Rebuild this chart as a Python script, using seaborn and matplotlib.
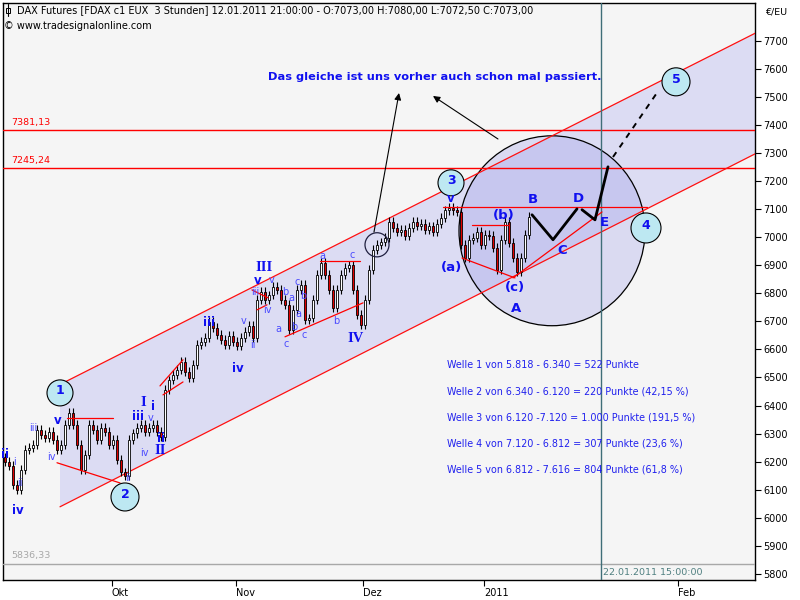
import numpy as np
import pandas as pd
import matplotlib
matplotlib.use("Agg")
import matplotlib.pyplot as plt
import seaborn as sns
from matplotlib.patches import Ellipse, Polygon

# ---------------- data ----------------
closes = [6199, 6185, 6117, 6099, 6171, 6242, 6249, 6260, 6313, 6295,
          6285, 6306, 6278, 6242, 6260, 6331, 6374, 6331, 6260, 6171,
          6224, 6331, 6313, 6278, 6320, 6306, 6260, 6278, 6206, 6163,
          6149, 6278, 6302, 6320, 6331, 6306, 6320, 6331, 6306, 6288,
          6456, 6491, 6509, 6527, 6556, 6520, 6499, 6545, 6616, 6627,
          6641, 6698, 6677, 6652, 6634, 6616, 6648, 6627, 6613, 6641,
          6663, 6684, 6641, 6777, 6805, 6777, 6794, 6823, 6812, 6777,
          6759, 6670, 6741, 6812, 6830, 6705, 6712, 6777, 6866, 6909,
          6866, 6812, 6748, 6812, 6866, 6891, 6901, 6812, 6723, 6688,
          6777, 6884, 6955, 6973, 6983, 6998, 7055, 7033, 7019, 7026,
          7005, 7033, 7055, 7040, 7048, 7026, 7040, 7019, 7048, 7069,
          7097, 7105, 7097, 7090, 6973, 6926, 6991, 6998, 7019, 6973,
          7008, 7005, 6962, 6884, 6991, 7055, 6980, 6926, 6876, 6926,
          7008, 7073]
first_open = 6215

month_ticks = [26.75, 57.75, 89.5, 119.75, 168.25]
month_labels = ["Okt", "Nov", "Dez", "2011", "Feb"]
price_ticks = list(range(5800, 7701, 100))

level_values = [7381.13, 7245.24]
level_labels = ["7381,13", "7245,24"]
low_level = 5836.33
low_label = "5836,33"
cursor_x = 149.0
cursor_label = "22.01.2011 15:00:00"

channel_x = [13.75, 187.5]
channel_upper = [6475, 7727]
channel_lower = [6039, 7297]

# small red helper lines: (x0, x1, y0, y1)
red_segments = [
    (15.5, 27.0, 6356, 6356),
    (13.0, 28.75, 6196, 6124),
    (38.75, 44.5, 6470, 6563),
    (39.5, 44.5, 6438, 6484),
    (61.75, 65.75, 6812, 6784),
    (63.0, 65.5, 6741, 6759),
    (78.75, 88.75, 6916, 6916),
    (70.0, 89.5, 6645, 6766),
    (109.5, 160.5, 7108, 7108),
    (116.75, 125.75, 7044, 7044),
    (114.25, 127.5, 6926, 6855),
    (127.0, 149.25, 6855, 7090),
]

proj1_x = [131.75, 137.0, 143.0]
proj1_y = [7080, 6991, 7101]
proj2_x = [144.25, 147.5, 150.75]
proj2_y = [7098, 7062, 7251]
proj3_x = [152.0, 163.0]
proj3_y = [7286, 7515]

wave_circle_labels = ["1", "2", "3", "4", "5"]
wave_circle_x = [13.75, 30.0, 111.5, 160.25, 167.75]
wave_circle_y = [6445, 6074, 7194, 7033, 7554]
wave_circle_r = [13, 14, 13, 15, 14]

big_circle = (136.75, 7023, 46.5, 677)
small_ring = (93.0, 6973, 6.0, 86)

welle_lines = [
    "Welle 1 von 5.818 - 6.340 = 522 Punkte",
    "Welle 2 von 6.340 - 6.120 = 220 Punkte (42,15 %)",
    "Welle 3 von 6.120 -7.120 = 1.000 Punkte (191,5 %)",
    "Welle 4 von 7.120 - 6.812 = 307 Punkte (23,6 %)",
    "Welle 5 von 6.812 - 7.616 = 804 Punkte (61,8 %)",
]

# ---------------- style ----------------
sns.set_style("white")
plt.rcParams["font.family"] = ["DejaVu Sans"]

fig = plt.figure(figsize=(8, 6), dpi=100)
fig.patch.set_facecolor("white")
ax = fig.add_axes([3 / 800, 20 / 600, 752 / 800, 577 / 600])
ax.set_facecolor("#f5f5f5")
ax.set_xlim(-0.5, 187.5)
ax.set_ylim(5778, 7835)

BLUE = "#1010f0"
LBLUE = "#4a4aff"


def P(x, y):
    return (x / 800, 1 - y / 600)


# channel fill
poly = Polygon([(channel_x[0], channel_lower[0]), (channel_x[1], channel_lower[1]),
                (channel_x[1], channel_upper[1]), (channel_x[0], channel_upper[0])],
               closed=True, facecolor="#dcdcf3", edgecolor="none", zorder=1)
ax.add_patch(poly)

# big circle
ax.add_patch(Ellipse((big_circle[0], big_circle[1]), big_circle[2], big_circle[3],
                     facecolor=(0.55, 0.55, 0.9, 0.25), edgecolor="black",
                     linewidth=0.9, zorder=2))

# levels
for v in level_values:
    ax.axhline(v, color="#ff0000", lw=1.0, zorder=3)
ax.axhline(low_level, color="#a8a8a8", lw=1.0, zorder=3)
ax.axvline(cursor_x, color="#3f6e78", lw=1.0, zorder=6)

# channel lines
df_ch = pd.DataFrame({"x": channel_x * 2, "y": channel_upper + channel_lower,
                      "line": ["u", "u", "l", "l"]})
sns.lineplot(data=df_ch, x="x", y="y", units="line", estimator=None,
             color="#ff1010", lw=0.9, ax=ax, zorder=3, legend=False)

# candles
opens = [first_open] + closes[:-1]
xs = np.arange(len(closes))
for x, o, c in zip(xs, opens, closes):
    lo, hi = min(o, c), max(o, c)
    ax.vlines(x, lo - 16, hi + 16, color="black", lw=0.8, zorder=4)
    ax.bar(x, max(hi - lo, 4), bottom=lo, width=0.62,
           color="white" if c >= o else "#e00000",
           edgecolor="black", linewidth=0.6, zorder=5)

# small red lines
for x0, x1, y0, y1 in red_segments:
    ax.plot([x0, x1], [y0, y1], color="#ff0000", lw=0.9, zorder=6)

# projection
sns.lineplot(x=proj1_x, y=proj1_y, color="black", lw=2, ax=ax, zorder=7, estimator=None)
sns.lineplot(x=proj2_x, y=proj2_y, color="black", lw=2, ax=ax, zorder=7, estimator=None)
ax.plot(proj3_x, proj3_y, color="black", lw=1.4, ls=(0, (3, 3)), zorder=7)

# small ring
ax.add_patch(Ellipse((small_ring[0], small_ring[1]), small_ring[2], small_ring[3],
                     facecolor="none", edgecolor="#202040", linewidth=0.9, zorder=7))

# wave circles
for lab, cx, cy, r in zip(wave_circle_labels, wave_circle_x, wave_circle_y, wave_circle_r):
    ax.add_patch(Ellipse((cx, cy), 2 * r / 4, 2 * r * 3.565, facecolor="#bde8f2",
                         edgecolor="black", linewidth=0.8, zorder=8))
    ax.text(cx, cy + 8, lab, color=BLUE, fontsize=9, fontweight="bold",
            ha="center", va="center", zorder=9)

# wave labels (pixel positions of annotations)
big_labels = [("(a)", 452, 268), ("(b)", 504, 216), ("(c)", 515, 288), ("A", 516, 308),
              ("B", 533, 200), ("C", 562, 250), ("D", 578, 198), ("E", 604, 223)]
roman_labels = [("I", 143, 403), ("II", 160, 451), ("III", 264, 267), ("IV", 356, 339)]
bold_small = [("ii", 5, 455), ("iv", 18, 510), ("v", 58, 420), ("i", 153, 406),
              ("ii", 161, 438), ("iii", 209, 322), ("iv", 238, 368), ("v", 258, 280),
              ("iii", 138, 417), ("v", 451, 199)]
light_small = [("ii", 20, 483), ("i", 15, 462), ("iii", 33, 428), ("iv", 51, 457),
               ("v", 151, 418), ("iv", 144, 453), ("ii", 128, 478), ("ii", 253, 345),
               ("iii", 255, 292), ("v", 272, 280), ("iv", 267, 310), ("b", 285, 292),
               ("a", 291, 298), ("c", 297, 282), ("b", 303, 296), ("a", 298, 314),
               ("a", 278, 329), ("b", 294, 327), ("c", 286, 344), ("c", 304, 335),
               ("a", 322, 256), ("b", 336, 321), ("c", 352, 255), ("v", 244, 321)]

for s, x, y in big_labels:
    fig.text(*P(x, y), s, color=BLUE, fontsize=9.5, fontweight="bold",
             ha="center", va="center", zorder=10)
for s, x, y in roman_labels:
    fig.text(*P(x, y), s, color=BLUE, fontsize=10.5, fontweight="bold",
             family="Liberation Serif", ha="center", va="center", zorder=10)
for s, x, y in bold_small:
    fig.text(*P(x, y), s, color=BLUE, fontsize=8.5, fontweight="bold",
             ha="center", va="center", zorder=10)
for s, x, y in light_small:
    fig.text(*P(x, y), s, color=LBLUE, fontsize=7, ha="center", va="center", zorder=10)

# headline text and arrows
fig.text(*P(268, 77), "Das gleiche ist uns vorher auch schon mal passiert.",
         color=BLUE, fontsize=8.2, fontweight="bold", ha="left", va="center")
for (x0, y0), (x1, y1) in [((374, 232), (399, 93)), ((498, 139), (433, 96))]:
    ax.annotate("", xy=P(x1, y1), xycoords="figure fraction",
                xytext=P(x0, y0), textcoords="figure fraction",
                arrowprops=dict(arrowstyle="-|>", color="black", lw=0.8,
                                mutation_scale=10, shrinkA=0, shrinkB=0), zorder=9)

for i, s in enumerate(welle_lines):
    fig.text(*P(447, 365 + 26 * i), s, color="#2020ee", fontsize=6.9,
             ha="left", va="center")

# level labels
for v, s in zip(level_values, level_labels):
    ax.text(1.5, v + 12, s, color="#ff0000", fontsize=6.8, ha="left", va="bottom")
ax.text(1.5, low_level + 12, low_label, color="#a8a8a8", fontsize=6.8,
        ha="left", va="bottom")
ax.text(cursor_x + 0.5, 5805, cursor_label, color="#4f7f80", fontsize=6.8,
        ha="left", va="center")

# title
fig.text(*P(17, 10), "DAX Futures [FDAX c1 EUX  3 Stunden] 12.01.2011 21:00:00 - "
         "O:7073,00 H:7080,00 L:7072,50 C:7073,00", color="black", fontsize=7.0,
         ha="left", va="center")
fig.text(*P(4, 26), "© www.tradesignalonline.com", color="black", fontsize=7.0,
         ha="left", va="center")
fig.add_artist(plt.Line2D([8 / 800, 8 / 800], [1 - 4 / 600, 1 - 16 / 600],
                          color="black", lw=0.8))
fig.add_artist(plt.Rectangle((6 / 800, 1 - 13 / 600), 4 / 800, 5 / 600,
                             facecolor="white", edgecolor="black", lw=0.7))
fig.text(*P(765, 12), "€/EU", color="black", fontsize=6.8, ha="left", va="center")

# axes
ax.yaxis.tick_right()
ax.set_yticks(price_ticks)
ax.set_yticklabels([str(t) for t in price_ticks])
ax.set_xticks(month_ticks)
ax.set_xticklabels(month_labels)
for lbl in ax.get_xticklabels():
    lbl.set_ha("left")
ax.tick_params(axis="y", direction="out", length=4, width=0.8, pad=2,
               labelsize=7, colors="black", right=True, left=False)
ax.tick_params(axis="x", direction="out", length=4, width=0.8, pad=2,
               labelsize=7, colors="black", bottom=True)
for sp in ax.spines.values():
    sp.set_visible(True)
    sp.set_color("black")
    sp.set_linewidth(1.0)
ax.set_xlabel("")
ax.set_ylabel("")
ax.grid(False)

fig.savefig("out.png", dpi=100)
